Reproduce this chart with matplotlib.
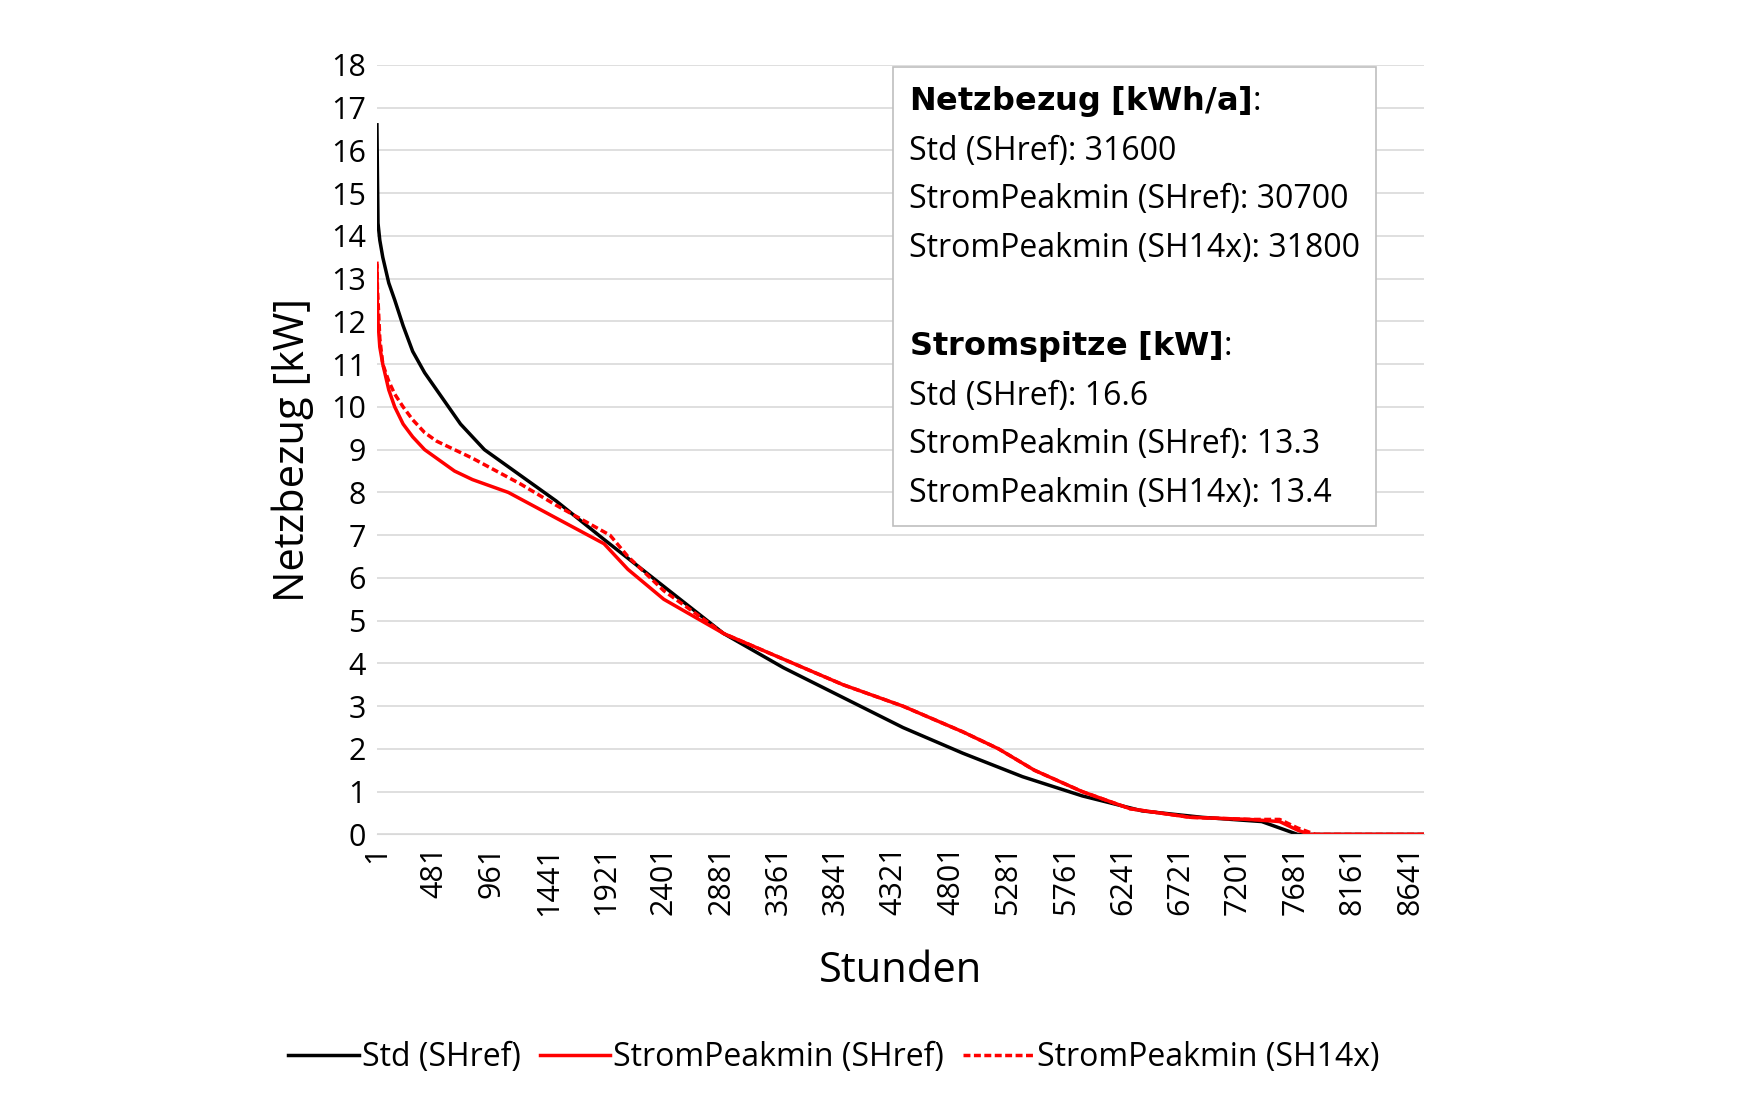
import matplotlib
matplotlib.use("Agg")
import matplotlib.pyplot as plt
import numpy as np

plt.rcParams['font.family'] = ['Open Sans', 'DejaVu Sans']

# load duration curves
std_h = [1, 5, 10, 25, 50, 100, 150, 220, 300, 400, 500, 600, 700, 800, 900, 1050, 1200, 1500,
         1900, 2400, 2900, 3400, 3900, 4400, 4900, 5400, 5900, 6400, 6900, 7400, 7650, 7700, 8760]
std_kw = [16.6, 15.5, 14.3, 13.9, 13.5, 12.9, 12.5, 11.9, 11.3, 10.8, 10.4, 10.0, 9.6, 9.3, 9.0,
          8.7, 8.4, 7.8, 6.9, 5.8, 4.7, 3.9, 3.2, 2.5, 1.9, 1.35, 0.9, 0.55, 0.4, 0.3, 0.05, 0, 0]
ref_h = [1, 5, 10, 25, 50, 100, 150, 220, 300, 400, 500, 650, 800, 1100, 1500, 1900, 2100, 2400,
         2900, 3400, 3900, 4400, 4900, 5200, 5500, 5900, 6300, 6800, 7300, 7550, 7700, 7800, 8760]
ref_kw = [13.3, 12.4, 12.0, 11.4, 11.0, 10.4, 10.0, 9.6, 9.3, 9.0, 8.8, 8.5, 8.3, 8.0, 7.4, 6.8,
          6.2, 5.5, 4.7, 4.1, 3.5, 3.0, 2.4, 2.0, 1.5, 1.0, 0.6, 0.4, 0.35, 0.3, 0.1, 0, 0]
x14_h = [1, 5, 10, 25, 50, 100, 150, 220, 300, 400, 500, 650, 800, 1200, 1500, 1950, 2100, 2400,
         2900, 3400, 3900, 4400, 4900, 5200, 5500, 5900, 6300, 6800, 7300, 7550, 7700, 7850, 8760]
x14_kw = [13.4, 12.8, 12.5, 11.6, 11.0, 10.6, 10.3, 10.0, 9.7, 9.4, 9.2, 9.0, 8.8, 8.2, 7.7, 7.0,
          6.5, 5.7, 4.7, 4.1, 3.5, 3.0, 2.4, 2.0, 1.5, 1.0, 0.6, 0.4, 0.35, 0.35, 0.15, 0, 0]

xticks = list(range(1, 8761, 480))

fig = plt.figure(figsize=(17.37, 11.20), dpi=100)
ax = fig.add_axes([0.217, 0.255, 0.603, 0.687])
ax.plot(std_h, std_kw, color='black', lw=2.5, label='Std (SHref)')
ax.plot(ref_h, ref_kw, color='red', lw=2.5, label='StromPeakmin (SHref)')
ax.plot(x14_h, x14_kw, color='red', lw=2.5, ls=(0, (2, 1)), label='StromPeakmin (SH14x)')

ax.set_xlim(1, 8760)
ax.set_ylim(0, 18)
ax.set_yticks(range(0, 19))
ax.set_xticks(xticks)
ax.set_xticklabels([str(t) for t in xticks], rotation=90)
ax.tick_params(labelsize=22, length=0, pad=8)
ax.grid(axis='y', color='#d9d9d9', lw=1.2)
ax.set_axisbelow(True)
for s in ['top', 'right', 'left']:
    ax.spines[s].set_visible(False)
ax.spines['bottom'].set_color('#d9d9d9')
ax.set_xlabel('Stunden', fontsize=30, labelpad=25)
ax.set_ylabel('Netzbezug [kW]', fontsize=30, labelpad=12)

txt = ("$\\bf{Netzbezug\\ [kWh/a]}$:\nStd (SHref): 31600\nStromPeakmin (SHref): 30700\n"
       "StromPeakmin (SH14x): 31800\n\n$\\bf{Stromspitze\\ [kW]}$:\nStd (SHref): 16.6\n"
       "StromPeakmin (SHref): 13.3\nStromPeakmin (SH14x): 13.4")
ax.text(0.508, 0.975, txt, transform=ax.transAxes, fontsize=23, va='top', ha='left',
        linespacing=1.62,
        bbox=dict(boxstyle='square,pad=0.5', fc='white', ec='#bfbfbf', lw=1.2))

fig.legend(loc='lower center', bbox_to_anchor=(0.48, 0.015), ncol=3, frameon=False,
           fontsize=23, handlelength=2.2, handletextpad=0.1, columnspacing=0.6)

fig.savefig('out.png', dpi=100)
